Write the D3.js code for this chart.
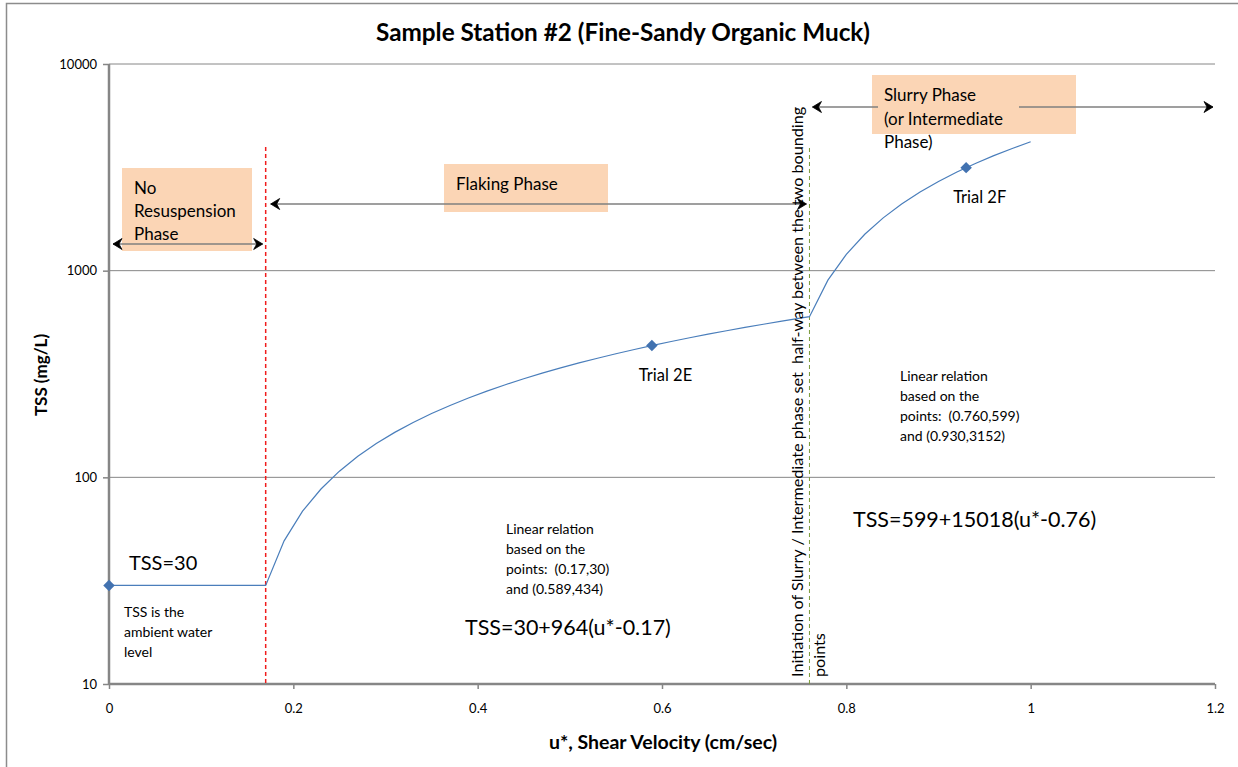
<html>
<head>
<script src="https://cdnjs.cloudflare.com/ajax/libs/d3/7.8.5/d3.min.js"></script>
<style>
  body { margin: 0; background: #fff; }
  svg text { font-family: Lato, "Open Sans", sans-serif; fill: #000; white-space: pre; }
</style>
</head>
<body>
<svg id="chart" width="1238" height="767"></svg>
<script>
// line series: u* (cm/sec) and TSS (mg/L)
var uStar = [0, 0.17, 0.19, 0.21, 0.23, 0.25, 0.27, 0.29, 0.31, 0.33, 0.35, 0.37, 0.39, 0.41, 0.43, 0.45,
  0.47, 0.49, 0.51, 0.53, 0.55, 0.57, 0.59, 0.61, 0.63, 0.65, 0.67, 0.69, 0.71, 0.73, 0.75, 0.76,
  0.78, 0.80, 0.82, 0.84, 0.86, 0.88, 0.90, 0.92, 0.94, 0.96, 0.98, 1.00];
var tss = [30, 30, 49.3, 68.6, 87.8, 107.1, 126.4, 145.7, 165.0, 184.2, 203.5, 222.8, 242.1, 261.4, 280.6, 299.9,
  319.2, 338.5, 357.8, 377.0, 396.3, 415.6, 434.9, 454.2, 473.4, 492.7, 512.0, 531.3, 550.6, 569.8, 589.1, 599,
  899.4, 1199.7, 1500.1, 1800.4, 2100.8, 2401.2, 2701.5, 3001.9, 3302.2, 3602.6, 3903.0, 4203.3];

// trial points
var trialU = [0, 0.589, 0.93];
var trialTss = [30, 434, 3152];
var trialNames = ["", "Trial 2E", "Trial 2F"];

// axis ticks
var xTicks = [0, 0.2, 0.4, 0.6, 0.8, 1, 1.2];
var yTicks = [10, 100, 1000, 10000];

// phase boundaries
var noResusEnd = 0.17;
var slurryStart = 0.76;

var svg = d3.select("#chart");
var x = d3.scaleLinear().domain([0, 1.2]).range([109, 1215]);
var y = d3.scaleLog().domain([10, 10000]).range([684, 64]);

// outer chart border
svg.append("rect").attr("x", 6.5).attr("y", 3.5).attr("width", 1260).attr("height", 800)
  .attr("fill", "none").attr("stroke", "#8c8c8c").attr("stroke-width", 1.5);

// arrowhead markers
var defs = svg.append("defs");
["end", "start"].forEach(function (k) {
  defs.append("marker").attr("id", "arr-" + k)
    .attr("viewBox", "-10 -7 12 14").attr("markerWidth", 12).attr("markerHeight", 14)
    .attr("refX", 0).attr("refY", 0).attr("markerUnits", "userSpaceOnUse")
    .attr("orient", k == "end" ? "auto" : "auto-start-reverse")
    .append("path").attr("d", "M-9,-5.5 L0,0 L-9,5.5 L-6,0 Z")
    .attr("fill", "#000").attr("stroke", "#000").attr("stroke-width", 0.8).attr("stroke-linejoin", "round");
});

// gridlines
svg.append("g").selectAll("line").data(yTicks.slice(1)).enter().append("line")
  .attr("x1", x(0)).attr("x2", x(1.2)).attr("y1", d => y(d)).attr("y2", d => y(d))
  .attr("stroke", "#868686").attr("stroke-width", 1);

// axes
var yAxis = svg.append("g").attr("transform", "translate(" + x(0) + ",0)")
  .call(d3.axisLeft(y).tickValues(yTicks).tickFormat(d3.format("d")).tickSize(6).tickPadding(6));
var xAxis = svg.append("g").attr("transform", "translate(0," + y(10) + ")")
  .call(d3.axisBottom(x).tickValues(xTicks).tickFormat(d => d).tickSize(5).tickPadding(15));
[xAxis, yAxis].forEach(function (a) {
  a.select(".domain").attr("stroke", "#868686").attr("stroke-width", 2.5);
  a.selectAll(".tick line").attr("stroke", "#868686").attr("stroke-width", 1.5);
  a.selectAll("text").style("font-size", "13px").attr("fill", "#000");
});
yAxis.select(".domain").attr("d", "M0," + y(10000) + "V" + y(10));
xAxis.select(".domain").attr("d", "M" + x(0) + ",0H" + x(1.2));

// phase boundary lines
svg.append("line").attr("x1", x(noResusEnd)).attr("x2", x(noResusEnd)).attr("y1", 147).attr("y2", y(10))
  .attr("stroke", "#f01c1c").attr("stroke-width", 1.5).attr("stroke-dasharray", "4,3");
svg.append("line").attr("x1", x(slurryStart)).attr("x2", x(slurryStart)).attr("y1", 148).attr("y2", y(10))
  .attr("stroke", "#7a9a3a").attr("stroke-width", 1).attr("stroke-dasharray", "4,3");

// annotation boxes
var boxes = [
  { x: 122, y: 168, w: 130, h: 83 },
  { x: 444, y: 164, w: 164, h: 48 },
  { x: 872, y: 75, w: 204, h: 59 }
];
svg.append("g").selectAll("rect").data(boxes).enter().append("rect")
  .attr("x", d => d.x).attr("y", d => d.y).attr("width", d => d.w).attr("height", d => d.h)
  .attr("fill", "#fbd5b5");

// phase arrows
function arrow(x1, x2, yy, both) {
  var l = svg.append("line").attr("x1", x1).attr("x2", x2).attr("y1", yy).attr("y2", yy)
    .attr("stroke", "#7f7f7f").attr("stroke-width", 1.5).attr("marker-end", "url(#arr-end)");
  if (both) l.attr("marker-start", "url(#arr-start)");
}
arrow(x(0) + 4, x(noResusEnd) - 3, 244, true);
arrow(x(noResusEnd) + 5, x(slurryStart) - 3, 204, true);
arrow(878, x(slurryStart) + 3, 107, false);
arrow(1019, x(1.2) - 2, 107, false);

// multi-line text helper
function lines(xx, y0, dy, size, arr) {
  var t = svg.append("text").attr("x", xx).attr("y", y0).style("font-size", size + "px");
  arr.forEach(function (s, i) {
    t.append("tspan").attr("x", xx).attr("dy", i == 0 ? 0 : dy).text(s);
  });
}
lines(134, 194, 23, 17, ["No", "Resuspension", "Phase"]);
lines(456, 190, 23, 17, ["Flaking Phase"]);
lines(884, 101, 23.5, 17, ["Slurry Phase", "(or Intermediate", "Phase)"]);

// data line
var lineGen = d3.line().x((d, i) => x(uStar[i])).y(d => y(d));
svg.append("path").datum(tss).attr("d", lineGen)
  .attr("fill", "none").attr("stroke", "#4a7ebb").attr("stroke-width", 1.2);

// trial markers
svg.append("g").selectAll("path").data(trialU).enter().append("path")
  .attr("d", d3.symbol().type(d3.symbolSquare).size(66))
  .attr("transform", (d, i) => "translate(" + x(d) + "," + y(trialTss[i]) + ") rotate(45)")
  .attr("fill", "#4272b0");
svg.append("g").selectAll("text").data(trialNames).enter().append("text")
  .attr("x", (d, i) => x(trialU[i]) - 13).attr("y", (d, i) => y(trialTss[i]) + 35)
  .style("font-size", "16.5px").text(d => d);

// annotations
lines(129, 570, 0, 20, ["TSS=30"]);
lines(124, 617, 20, 14, ["TSS is the", "ambient water", "level"]);
lines(506, 534, 20, 14, ["Linear relation", "based on the", "points:  (0.17,30)", "and (0.589,434)"]);
lines(465, 635, 0, 21.5, ["TSS=30+964(u*-0.17)"]);
lines(900, 381, 20, 14, ["Linear relation", "based on the", "points:  (0.760,599)", "and (0.930,3152)"]);
lines(853, 527, 0, 21.5, ["TSS=599+15018(u*-0.76)"]);

// vertical note on slurry boundary
var vt = svg.append("text").attr("transform", "translate(803,677) rotate(-90)").style("font-size", "16.2px");
vt.append("tspan").attr("x", 0).attr("y", 0).text("Initiation of Slurry / Intermediate phase set  half-way between the two bounding");
vt.append("tspan").attr("x", 0).attr("y", 22).text("points");

// title and axis labels
svg.append("text").attr("x", 623).attr("y", 41).attr("text-anchor", "middle")
  .style("font-size", "24.3px").style("font-weight", "bold").text("Sample Station #2 (Fine-Sandy Organic Muck)");
svg.append("text").attr("x", 663).attr("y", 749).attr("text-anchor", "middle")
  .style("font-size", "19.5px").style("font-weight", "bold").text("u*, Shear Velocity (cm/sec)");
svg.append("text").attr("transform", "translate(47,375) rotate(-90)").attr("text-anchor", "middle")
  .style("font-size", "17px").style("font-weight", "bold").text("TSS (mg/L)");
</script>
</body>
</html>
